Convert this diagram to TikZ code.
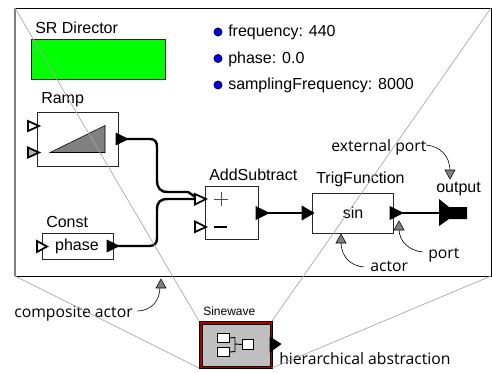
\documentclass[tikz,border=0pt]{standalone}
\usepackage{fontspec}
\setmainfont{Liberation Sans}
\newfontfamily\notefont{Open Sans}
\usetikzlibrary{arrows}
\definecolor{paramblue}{RGB}{0,0,230}
\definecolor{directorgreen}{RGB}{0,255,0}
\definecolor{framered}{RGB}{170,0,0}
\tikzset{
    % Grey lines of the zoom frame
    zoom line/.style={draw=black!35, line width=.5pt},
    % Outlined box of an actor
    actor box/.style={draw=black!85, line width=.8pt},
    % Black output port
    port out/.style={fill=black, draw=black, line width=.4pt},
    % Hollow input port
    port in/.style={fill=white, draw=black, line width=1.3pt},
    % Thick wire between ports
    wire/.style={draw=black, line width=1.8pt, line join=round},
    % Thin curved lead with its grey head
    lead/.style={draw=black, line width=.45pt},
    lead head/.style={fill=black!50, draw=black, line width=.4pt},
    % Labels of the actors
    actor label/.style={inner sep=0, anchor=base west, font=\fontsize{12}{14}\selectfont},
    % Notes around the model
    note label/.style={inner sep=0, anchor=base west, font=\notefont\fontsize{11.8}{14}\selectfont},
    % Small boxes of the hierarchy icon
    icon box/.style={draw=black, line width=.7pt, fill=white, anchor=north west, inner sep=0},
    % Blue dot of a parameter
    param dot/.style={circle, fill=paramblue, draw=black, line width=.4pt, inner sep=0, minimum size=6.2pt}}

\begin{document}
\begin{tikzpicture}[x=.75pt, y=-.75pt]

\useasboundingbox (0,0) rectangle (492,372);

% Composite actor frame

\draw [draw=black, line width=.7pt] (15,8) -- (491,8) -- (491,276) -- (15,276);
\draw [draw=black!50, line width=1pt] (15,8) -- (15,276);

\coordinate (frame nw) at (15,8);
\coordinate (frame ne) at (491,8);
\coordinate (frame sw) at (15,276);
\coordinate (frame se) at (491,276);

% Director and parameters

\node [actor label] (director label) at (35,33) {SR Director};
\node [draw=black!85, line width=.8pt, fill=directorgreen, anchor=north west,
    minimum width=134pt*.75, minimum height=40pt*.75, inner sep=0] (director) at (31,39) {};

\node [param dot] (dot a) at (218,32) {};
\node [param dot] (dot b) at (218,58.5) {};
\node [param dot] (dot c) at (218,85) {};
\node [actor label] (param a) at (228,36) {frequency: 440};
\node [actor label] (param b) at (228,63) {phase: 0.0};
\node [actor label] (param c) at (228,89) {samplingFrequency: 8000};

% Ramp

\node [actor label] (ramp label) at (41,103) {Ramp};
\node [actor box, fill=white, anchor=north west, inner sep=0,
    minimum width=81pt*.75, minimum height=54pt*.75] (ramp) at (37,112) {};
\draw [fill=black!50, draw=black, line width=.4pt] (50,152.5) -- (105,125.5) -- (105,152.5) -- cycle;
\draw [port in] (28,121) -- (39,126) -- (28,131) -- cycle;
\draw [port in, fill=black!30] (28,147.5) -- (39,152.5) -- (28,157.5) -- cycle;

% Const

\node [actor label] (const label) at (46,227) {Const};
\node [actor box, fill=white, anchor=north west, inner sep=0,
    minimum width=71pt*.75, minimum height=26pt*.75] (const) at (42,233) {};
\node [inner sep=0, anchor=base, font=\fontsize{12}{14}\selectfont] (const text) at (77,250) {phase};
\draw [port in] (37,241) -- (47,246.5) -- (37,252) -- cycle;

% AddSubtract

\node [actor label] (add label) at (209,180) {AddSubtract};
\node [actor box, fill=white, anchor=north west, inner sep=0,
    minimum width=53pt*.75, minimum height=53pt*.75] (add) at (205,186) {};
\draw [draw=black!70, line width=.6pt] (214,199) -- (228,199) (221,192) -- (221,206);
\draw [draw=black, line width=1.2pt] (214,227) -- (227,227);

% TrigFunction

\node [actor label] (trig label) at (316,183) {TrigFunction};
\node [actor box, fill=white, anchor=north west, inner sep=0,
    minimum width=81pt*.75, minimum height=40pt*.75] (trig) at (312,193) {};
\node [inner sep=0, anchor=base, font=\fontsize{12}{14}\selectfont] (trig text) at (353,218) {sin};

% Wires

\draw [wire] (118,139) -- (150,139)
    .. controls (155,139) and (157,142) .. (157,147) -- (157,180)
    .. controls (157,188) and (160,192) .. (168,192) -- (188,192) -- (197,198);
\draw [wire] (113,246) -- (149,246)
    .. controls (155,246) and (157,243) .. (157,238) -- (157,210)
    .. controls (157,202) and (160,199) .. (168,199) -- (197,199);
\draw [wire] (258,213) -- (312,213);
\draw [wire] (392,213) -- (440,213);

% Ports

\draw [port out] (116,133) -- (128,139) -- (116,145) -- cycle;
\draw [port out] (107,240) -- (119,246) -- (107,252) -- cycle;
\draw [port out] (256,206.5) -- (269,213) -- (256,219.5) -- cycle;
\draw [port out] (390,206.5) -- (403,213) -- (390,219.5) -- cycle;
\draw [port out] (302,206) -- (314,213) -- (302,220) -- cycle;
\draw [port in] (195,194) -- (206,199) -- (195,204.5) -- cycle;
\draw [port in] (195,221.5) -- (206,227) -- (195,232) -- cycle;

% External output

\node [actor label] (output label) at (436,192) {output};
\fill [black] (439,199) -- (449,207) -- (467,207) -- (467,219) -- (449,219) -- (439,226) -- cycle;

% Notes

\node [note label] (external note) at (331,151) {external port};
\node [note label] (actor note) at (370,271) {actor};
\node [note label] (port note) at (428,258) {port};
\node [note label] (composite note) at (14,317) {composite actor};
\node [note label] (abstraction note) at (279,364) {hierarchical abstraction};

\coordinate (external tip) at (450,179);
\coordinate (actor tip) at (341,234);
\coordinate (port tip) at (399,221);
\coordinate (composite tip) at (161,279);

\draw [lead] (426,145) .. controls (439,146) and (450,155) .. (450,171);
\draw [lead] (364,267) .. controls (350,266) and (341,256) .. (341,242);
\draw [lead] (423,252) .. controls (410,251) and (399,242) .. (399,229);
\draw [lead] (137,311) .. controls (150,311) and (160,302) .. (160,287);

\draw [lead head] (external tip) -- +(-5,-9) -- +(5,-9) -- cycle;
\draw [lead head] (actor tip) -- +(-5,9) -- +(5,9) -- cycle;
\draw [lead head] (port tip) -- +(-5,9) -- +(5,9) -- cycle;
\draw [lead head] (composite tip) -- +(-5,9) -- +(5,9) -- cycle;

% Hierarchical abstraction

\node [inner sep=0, anchor=base west, font=\fontsize{9}{11}\selectfont] (sinewave label) at (203,315) {Sinewave};
\node [draw=black, line width=.6pt, fill=framered, anchor=north west, inner sep=0,
    minimum width=73pt*.75, minimum height=47pt*.75] (sinewave outer) at (199,321) {};
\node [draw=black, line width=.5pt, fill=black!25, anchor=north west, inner sep=0,
    minimum width=68pt*.75, minimum height=42pt*.75] (sinewave) at (201.5,323.5) {};
\draw [port out] (270,337) -- (281,344) -- (270,352) -- cycle;

\node [icon box, minimum width=12pt*.75, minimum height=9pt*.75] (icon a) at (217,333) {};
\node [icon box, minimum width=12pt*.75, minimum height=9pt*.75] (icon b) at (217,347) {};
\node [icon box, minimum width=11pt*.75, minimum height=10pt*.75] (icon c) at (242,339) {};
\draw [draw=black, line width=.7pt] (icon a.east) -- (235,337.5) -- (235,351.5) -- (icon b.east)
    (235,344) -- (icon c.west);

% Zoom lines

\draw [zoom line] (frame nw) -- (199,321);
\draw [zoom line] (frame ne) -- (272,321);
\draw [zoom line] (frame sw) -- (199,368);
\draw [zoom line] (frame se) -- (272,368);

\end{tikzpicture}
\end{document}
